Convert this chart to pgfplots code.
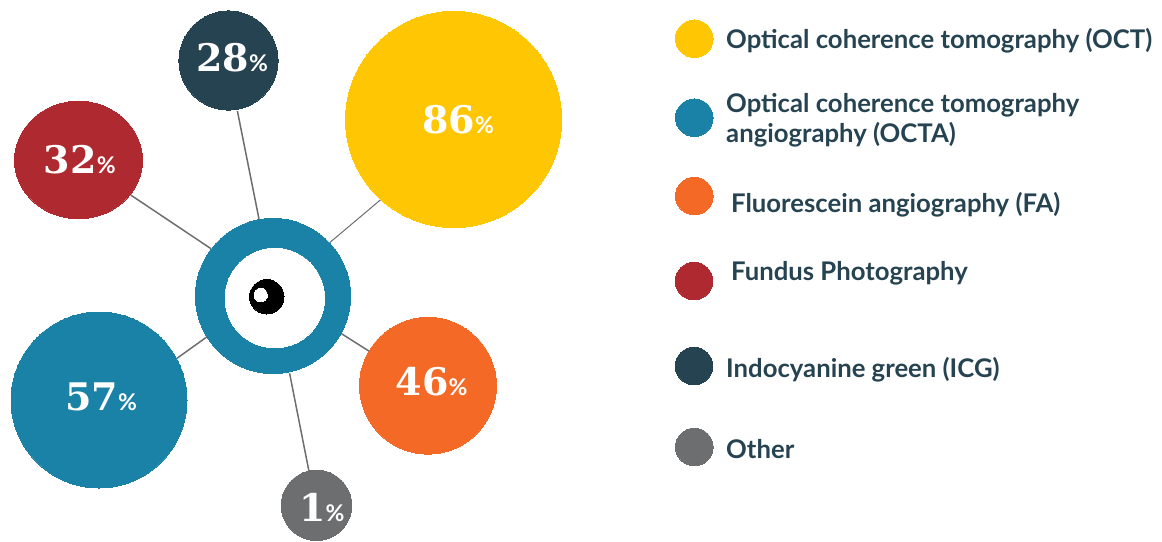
\documentclass[border=0pt]{standalone}
\usepackage{fontspec}
\usepackage{pgfplots}
\pgfplotsset{compat=1.18}
\setmainfont{Lato}
\newfontfamily\numfont{DejaVu Serif}
\definecolor{octY}{HTML}{FFC603}
\definecolor{octaB}{HTML}{1982A6}
\definecolor{faO}{HTML}{F36925}
\definecolor{fpR}{HTML}{AF2A30}
\definecolor{icgD}{HTML}{264351}
\definecolor{othG}{HTML}{6D6E70}
\newcommand{\bubble}[5][]{\addplot[only marks, mark=*, mark size=#5pt,
    mark options={draw=#2, fill=#2, line width=0pt, #1}] coordinates {(#3,#4)};}
\newcommand{\spoke}[5][1.5pt]{\addplot[othG, line width=#1] coordinates {(#2,#3) (#4,#5)};}
% value label: left end and baseline of the number
\newcommand{\pct}[3]{\addplot[only marks, mark=*, mark size=0pt,
    nodes near coords={{\numfont\bfseries\fontsize{38}{38}\selectfont #3}{\bfseries\fontsize{23}{23}\selectfont\%}},
    nodes near coords style={anchor=base west, inner sep=0pt, text=white}] coordinates {(#1,#2)};}
\newcommand{\leg}[3]{\node[anchor=base west, inner sep=0pt, text=icgD] at (axis cs:#1,#2)
    {\bfseries\fontsize{25.7}{25.7}\selectfont #3};}
\begin{document}
\begin{tikzpicture}
\path[use as bounding box] (0,0) rectangle (1162pt,541pt);
\begin{axis}[
    at={(0,0)}, anchor=south west,
    scale only axis, width=1162pt, height=541pt,
    xmin=0, xmax=1162, ymin=0, ymax=541, y dir=reverse,
    axis lines=none, clip=false
]
% spokes
\spoke{237.4}{111}{259}{219}
\spoke{130.7}{195}{211}{248.7}
\spoke[1pt]{381.5}{199}{329.6}{242.7}
\spoke{177}{358.3}{206.7}{337}
\spoke{341.5}{333.7}{369.3}{351.3}
\spoke{289.6}{373.3}{308.9}{471}
% bubbles: x, y, radius
\bubble{octY}{453.6}{119.5}{108.1}
\bubble{icgD}{228.5}{60.5}{49.6}
\bubble[xscale=1.09]{fpR}{78.5}{160}{58.7}
\bubble{octaB}{99}{400}{88}
\bubble{faO}{428}{385.7}{68.4}
\bubble{othG}{316.5}{505.3}{35.2}
% eye
\bubble{octaB}{273}{296}{77.6}
\bubble{white}{274.8}{298}{49.8}
\bubble{black}{266.8}{296.8}{17.2}
\bubble{white}{260.7}{295}{6.7}
% values
\pct{422}{133.5}{86}
\pct{196}{71.7}{28}
\pct{43.7}{173.3}{32}
\pct{65}{410.7}{57}
\pct{395.5}{395.5}{46}
\pct{299}{521.2}{1}
% legend
\bubble{octY}{694.3}{38.7}{18.8}
\bubble{octaB}{694.3}{117.7}{18.8}
\bubble{faO}{694.3}{196}{18.8}
\bubble{fpR}{694}{281}{18.8}
\bubble{icgD}{694}{366}{18.8}
\bubble{othG}{694.3}{447}{18.8}
\leg{726}{48.7}{Optical coherence tomography (OCT)}
\leg{726}{112}{Optical coherence tomography}
\leg{726}{142}{angiography (OCTA)}
\leg{731}{212}{Fluorescein angiography (FA)}
\leg{731}{280.5}{Fundus Photography}
\leg{726}{377}{Indocyanine green (ICG)}
\leg{726}{458}{Other}
\end{axis}
\end{tikzpicture}
\end{document}
